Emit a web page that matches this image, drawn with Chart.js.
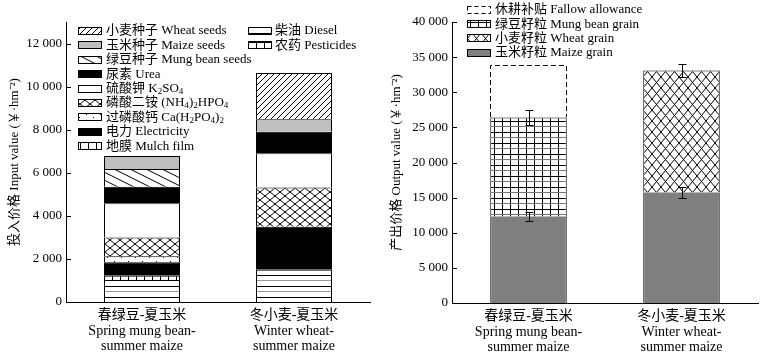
<!DOCTYPE html>
<html>
<head>
<meta charset="utf-8">
<script src="https://cdn.jsdelivr.net/npm/chart.js@4.4.1/dist/chart.umd.min.js"></script>
<style>
body { margin: 0; background: #fff; width: 765px; height: 358px; overflow: hidden; position: relative; }
.box { position: absolute; top: 0; height: 358px; }
#leftBox { left: 0; width: 382px; }
#rightBox { left: 382px; width: 383px; }
</style>
</head>
<body>
<div class="box" id="leftBox"><canvas id="inputChart" width="382" height="358"></canvas></div>
<div class="box" id="rightBox"><canvas id="outputChart" width="383" height="358"></canvas></div>
<script>
// Categories (x axis, multi-line)
const categories = [
    ['春绿豆-夏玉米', 'Spring mung bean-', 'summer maize'],
    ['冬小麦-夏玉米', 'Winter wheat-', 'summer maize']
];

// Input value (￥·hm-2), stacked bottom -> top
const inputLabels = ['柴油 Diesel', '农药 Pesticides', '地膜 Mulch film', '电力 Electricity',
    '过磷酸钙 Ca(H₂PO₄)₂', '磷酸二铵 (NH₄)₂HPO₄', '硫酸钾 K₂SO₄', '尿素 Urea',
    '绿豆种子 Mung bean seeds', '玉米种子 Maize seeds', '小麦种子 Wheat seeds'];
const diesel = [1020, 1500];
const pesticides = [null, null];
const mulchFilm = [200, null];
const electricity = [630, 1990];
const superphosphate = [270, null];
const dap = [870, 1830];
const k2so4 = [1590, 1590];
const urea = [770, 1000];
const mungSeeds = [820, null];
const maizeSeeds = [610, 580];
const wheatSeeds = [null, 2140];
const inputTicks = [0, 2000, 4000, 6000, 8000, 10000, 12000];

// Output value (￥·hm-2), stacked bottom -> top
const outputLabels = ['玉米籽粒 Maize grain', '绿豆籽粒 Mung bean grain', '小麦籽粒 Wheat grain', '休耕补贴 Fallow allowance'];
const maizeGrain = [12310, 15730];
const mungGrain = [14100, null];
const wheatGrain = [null, 17370];
const fallowAllowance = [7410, null];
const maizeGrainErr = [660, 850];
const mungGrainErr = [1050, null];
const wheatGrainErr = [null, 900];
const outputTicks = [0, 5000, 10000, 15000, 20000, 25000, 30000, 35000, 40000];

const FONT = "'Liberation Serif', 'Times New Roman', 'Noto Sans CJK SC', serif";

// small tiled patterns
function makePattern(w, h, draw) {
    const c = document.createElement('canvas');
    c.width = w; c.height = h;
    const g = c.getContext('2d');
    g.fillStyle = '#fff';
    g.fillRect(0, 0, w, h);
    g.strokeStyle = '#000';
    g.fillStyle = '#000';
    g.lineWidth = 1;
    draw(g, w, h);
    return g.createPattern(c, 'repeat');
}
function line(g, x1, y1, x2, y2) {
    g.beginPath(); g.moveTo(x1, y1); g.lineTo(x2, y2); g.stroke();
}
const slashPat = makePattern(6, 6, (g, w, h) => {
    line(g, -1, h + 1, w + 1, -1); line(g, -2, 1, 1, -2); line(g, w - 1, h + 2, w + 2, h - 1);
});
const backslashPat = makePattern(16, 8, (g, w, h) => {
    line(g, -2, -1, w + 2, h + 1); line(g, -2, h - 1, 2, h + 1); line(g, w - 2, -1, w + 2, 1);
});
const crossPat = makePattern(10, 8, (g, w, h) => {
    line(g, 0, 0, w, h); line(g, 0, h, w, 0);
});
const wheatGrainPat = makePattern(9, 11, (g, w, h) => {
    line(g, 0, 0, w, h); line(g, 0, h, w, 0);
});
const dotPat = makePattern(14, 7, (g) => {
    g.fillRect(2, 2, 1, 1); g.fillRect(9, 5, 1, 1);
});
const vertPat = makePattern(8, 4, (g, w, h) => { line(g, 0.5, 0, 0.5, h); });
const gridPat = makePattern(8, 6, (g, w, h) => { line(g, 0.5, 0, 0.5, h); line(g, 0, 0.5, w, 0.5); });
const dieselPat = makePattern(4, 11, (g, w) => {
    line(g, 0, 0.5, w, 0.5);
    g.strokeStyle = '#999'; line(g, 0, 5.5, w, 5.5);
});
const mungGrainPat = makePattern(8, 11, (g, w, h) => {
    line(g, 0.5, 0, 0.5, h); line(g, 0, 0.5, w, 0.5);
    g.strokeStyle = '#777'; line(g, 0, 5.5, w, 5.5);
});

function fmt(v) {
    return String(v).replace(/\B(?=(\d{3})+(?!\d))/g, ' ');
}

// draws text with unicode subscripts rendered small and lowered
const SUBS = '₀₁₂₃₄₅₆₇₈₉';
function drawRich(ctx, text, x, y, size) {
    let cx = x;
    for (const ch of text) {
        const k = SUBS.indexOf(ch);
        if (k >= 0) {
            ctx.font = `${size * 0.7}px ${FONT}`;
            ctx.fillText(String(k), cx, y + 3);
            cx += ctx.measureText(String(k)).width;
        } else {
            ctx.font = `${size}px ${FONT}`;
            ctx.fillText(ch, cx, y);
            cx += ctx.measureText(ch).width;
        }
    }
}

// inward tick marks on y axis
const innerTicks = {
    id: 'innerTicks',
    afterDraw(chart) {
        const { ctx, chartArea } = chart;
        const y = chart.scales.y;
        ctx.save();
        ctx.strokeStyle = '#000';
        ctx.lineWidth = 1;
        y.ticks.forEach(t => {
            const py = Math.round(y.getPixelForValue(t.value)) + 0.5;
            ctx.beginPath();
            ctx.moveTo(chartArea.left, py);
            ctx.lineTo(chartArea.left + 5, py);
            ctx.stroke();
        });
        ctx.restore();
    }
};

function swatch(ctx, x, y, fill, dashed) {
    if (dashed) {
        ctx.setLineDash([4, 3]);
        ctx.strokeRect(x + 0.5, y + 0.5, 23, 7);
        ctx.setLineDash([]);
        return;
    }
    ctx.fillStyle = fill;
    ctx.fillRect(x, y, 24, 8);
    ctx.strokeRect(x + 0.5, y + 0.5, 23, 7);
}

// Input value chart
const inputFills = [dieselPat, gridPat, vertPat, '#000', dotPat, crossPat, '#fff', '#000', backslashPat, '#bfbfbf', slashPat];
const inputSeries = [diesel, pesticides, mulchFilm, electricity, superphosphate, dap, k2so4, urea, mungSeeds, maizeSeeds, wheatSeeds];

const inputLegend = {
    id: 'inputLegend',
    afterDraw(chart) {
        const ctx = chart.ctx;
        ctx.save();
        ctx.strokeStyle = '#000';
        ctx.lineWidth = 1;
        ctx.textBaseline = 'middle';
        const col1 = [10, 9, 8, 7, 6, 5, 4, 3, 2];
        const col2 = [0, 1];
        col1.forEach((d, i) => {
            const yc = 31 + i * 14.4;
            swatch(ctx, 78, Math.round(yc - 4), inputFills[d]);
            ctx.fillStyle = '#000';
            drawRich(ctx, inputLabels[d], 106, yc, 13);
        });
        col2.forEach((d, i) => {
            const yc = 31 + i * 14.4;
            swatch(ctx, 248, Math.round(yc - 4), inputFills[d]);
            ctx.fillStyle = '#000';
            drawRich(ctx, inputLabels[d], 275, yc, 13);
        });
        ctx.restore();
    }
};

function yAxis(max, ticks, width, title) {
    return {
        stacked: true,
        min: 0,
        max: max,
        afterBuildTicks: s => { s.ticks = ticks.map(v => ({ value: v })); },
        afterFit: s => { s.width = width; },
        grid: { display: false, drawTicks: false },
        border: { display: true, color: '#000', width: 1 },
        ticks: {
            color: '#000',
            padding: 4,
            font: { family: FONT, size: 13 },
            callback: v => fmt(v)
        },
        title: {
            display: true,
            text: title,
            color: '#000',
            font: { family: FONT, size: 13 },
            padding: { top: 7, bottom: 0 }
        }
    };
}
function xAxis(height) {
    return {
        stacked: true,
        afterFit: s => { s.height = height; },
        grid: { display: false, drawTicks: false },
        border: { display: true, color: '#000', width: 1 },
        ticks: {
            color: '#000',
            padding: 6,
            maxRotation: 0,
            font: { family: FONT, size: 14, lineHeight: 1.1 }
        }
    };
}

new Chart(document.getElementById('inputChart'), {
    type: 'bar',
    data: {
        labels: categories,
        datasets: inputSeries.map((s, i) => ({
            label: inputLabels[i],
            data: s,
            backgroundColor: inputFills[i],
            borderColor: '#000',
            borderWidth: 1,
            barPercentage: 0.5,
            categoryPercentage: 1
        }))
    },
    options: {
        responsive: false,
        animation: false,
        devicePixelRatio: 1,
        layout: { padding: { top: 22, right: 12, left: 0, bottom: 0 } },
        plugins: { legend: { display: false }, tooltip: { enabled: false } },
        scales: {
            x: xAxis(56),
            y: yAxis(13000, inputTicks, 66, '投入价格 Input value (￥·hm⁻²)')
        }
    },
    plugins: [innerTicks, inputLegend]
});

// Output value chart
const outputFills = ['#7f7f7f', mungGrainPat, wheatGrainPat, 'rgba(0,0,0,0)'];
const outputSeries = [maizeGrain, mungGrain, wheatGrain, fallowAllowance];
const outputErrors = [maizeGrainErr, mungGrainErr, wheatGrainErr, null];

const outputExtras = {
    id: 'outputExtras',
    afterDatasetsDraw(chart) {
        const ctx = chart.ctx;
        const y = chart.scales.y;
        ctx.save();
        ctx.strokeStyle = '#000';
        ctx.lineWidth = 1;
        // dashed fallow allowance outline
        const fm = chart.getDatasetMeta(3);
        fm.data.forEach((el, i) => {
            if (fallowAllowance[i] == null) return;
            const l = Math.round(el.x - el.width / 2) + 0.5;
            const r = Math.round(el.x + el.width / 2) - 0.5;
            const t = Math.round(el.y) + 0.5;
            const b = Math.round(el.base);
            ctx.setLineDash([5, 3]);
            ctx.beginPath();
            ctx.moveTo(l, b); ctx.lineTo(l, t); ctx.lineTo(r, t); ctx.lineTo(r, b);
            ctx.stroke();
            ctx.setLineDash([]);
        });
        // error bars at the top of each segment
        outputErrors.forEach((errs, d) => {
            if (!errs) return;
            const meta = chart.getDatasetMeta(d);
            errs.forEach((e, i) => {
                if (e == null) return;
                let top = 0;
                for (let k = 0; k <= d; k++) top += outputSeries[k][i] || 0;
                const x = Math.round(meta.data[i].x) + 0.5;
                const y1 = Math.round(y.getPixelForValue(top + e)) + 0.5;
                const y2 = Math.round(y.getPixelForValue(top - e)) + 0.5;
                ctx.beginPath();
                ctx.moveTo(x, y1); ctx.lineTo(x, y2);
                ctx.moveTo(x - 4, y1); ctx.lineTo(x + 4, y1);
                ctx.moveTo(x - 4, y2); ctx.lineTo(x + 4, y2);
                ctx.stroke();
            });
        });
        ctx.restore();
    },
    afterDraw(chart) {
        const ctx = chart.ctx;
        ctx.save();
        ctx.strokeStyle = '#000';
        ctx.lineWidth = 1;
        ctx.textBaseline = 'middle';
        [3, 1, 2, 0].forEach((d, i) => {
            const yc = 10 + i * 14.2;
            swatch(ctx, 85, Math.round(yc - 4), outputFills[d], d === 3);
            ctx.fillStyle = '#000';
            drawRich(ctx, outputLabels[d], 113, yc, 13);
        });
        ctx.restore();
    }
};

new Chart(document.getElementById('outputChart'), {
    type: 'bar',
    data: {
        labels: categories,
        datasets: outputSeries.map((s, i) => ({
            label: outputLabels[i],
            data: s,
            backgroundColor: outputFills[i],
            borderColor: '#000',
            borderWidth: i === 3 ? 0 : 1,
            barPercentage: 0.5,
            categoryPercentage: 1
        }))
    },
    options: {
        responsive: false,
        animation: false,
        devicePixelRatio: 1,
        layout: { padding: { top: 22, right: 7, left: 0, bottom: 0 } },
        plugins: { legend: { display: false }, tooltip: { enabled: false } },
        scales: {
            x: xAxis(55),
            y: yAxis(40000, outputTicks, 70, '产出价格 Output value (￥·hm⁻²)')
        }
    },
    plugins: [innerTicks, outputExtras]
});
</script>
</body>
</html>
